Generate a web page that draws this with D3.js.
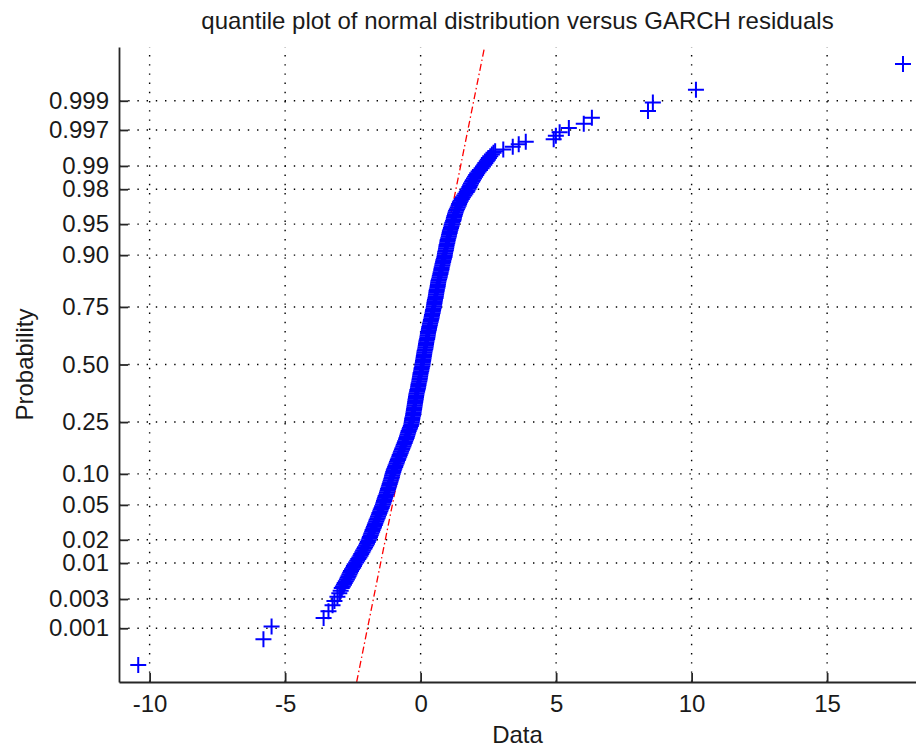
<!DOCTYPE html>
<html>
<head>
<meta charset="utf-8">
<script src="https://cdn.jsdelivr.net/npm/d3@7"></script>
<style>
	body { margin: 0; background: #fff; }
	text { font-family: "Liberation Sans", Arial, sans-serif; fill: #1a1a1a; }
</style>
</head>
<body>
<div id="chart"></div>
<script>
"use strict";

const width = 916, height = 750;
const margin = { top: 47, right: 0, bottom: 68, left: 119 };

//  Data (sorted residuals and their normal scores)
const normalScore = [
	-3.52, -3.22, -3.07, -2.97, -2.89, -2.82, -2.77, -2.72, -2.68, -2.65,
	-2.62, -2.60, -2.58, -2.56, -2.54, -2.52, -2.50, -2.48, -2.46, -2.44,
	-2.42, -2.40, -2.38, -2.36, -2.34, -2.32, -2.30, -2.28, -2.26, -2.24,
	-2.22, -2.20, -2.18, -2.16, -2.14, -2.12, -2.10, -2.08, -2.06, -2.04,
	-2.02, -2.00, -1.98, -1.96, -1.94, -1.92, -1.90, -1.88, -1.86, -1.84,
	-1.82, -1.80, -1.78, -1.76, -1.74, -1.72, -1.70, -1.68, -1.66, -1.64,
	-1.62, -1.60, -1.58, -1.56, -1.54, -1.52, -1.50, -1.48, -1.46, -1.44,
	-1.42, -1.40, -1.38, -1.36, -1.34, -1.32, -1.30, -1.28, -1.26, -1.24,
	-1.22, -1.20, -1.18, -1.16, -1.14, -1.12, -1.10, -1.08, -1.06, -1.04,
	-1.02, -1.00, -0.98, -0.96, -0.94, -0.92, -0.90, -0.88, -0.86, -0.84,
	-0.82, -0.80, -0.78, -0.76, -0.74, -0.72, -0.70, -0.68, -0.66, -0.64,
	-0.62, -0.60, -0.58, -0.56, -0.54, -0.52, -0.50, -0.48, -0.46, -0.44,
	-0.42, -0.40, -0.38, -0.36, -0.34, -0.32, -0.30, -0.28, -0.26, -0.24,
	-0.22, -0.20, -0.18, -0.16, -0.14, -0.12, -0.10, -0.08, -0.06, -0.04,
	-0.02, 0.00, 0.02, 0.04, 0.06, 0.08, 0.10, 0.12, 0.14, 0.16,
	0.18, 0.20, 0.22, 0.24, 0.26, 0.28, 0.30, 0.32, 0.34, 0.36,
	0.38, 0.40, 0.42, 0.44, 0.46, 0.48, 0.50, 0.52, 0.54, 0.56,
	0.58, 0.60, 0.62, 0.64, 0.66, 0.68, 0.70, 0.72, 0.74, 0.76,
	0.78, 0.80, 0.82, 0.84, 0.86, 0.88, 0.90, 0.92, 0.94, 0.96,
	0.98, 1.00, 1.02, 1.04, 1.06, 1.08, 1.10, 1.12, 1.14, 1.16,
	1.18, 1.20, 1.22, 1.24, 1.26, 1.28, 1.30, 1.32, 1.34, 1.36,
	1.38, 1.40, 1.42, 1.44, 1.46, 1.48, 1.50, 1.52, 1.54, 1.56,
	1.58, 1.60, 1.62, 1.64, 1.66, 1.68, 1.70, 1.72, 1.74, 1.76,
	1.78, 1.80, 1.82, 1.84, 1.86, 1.88, 1.90, 1.92, 1.94, 1.96,
	1.98, 2.00, 2.02, 2.04, 2.06, 2.08, 2.10, 2.12, 2.14, 2.16,
	2.18, 2.20, 2.22, 2.24, 2.26, 2.28, 2.30, 2.32, 2.34, 2.36,
	2.38, 2.40, 2.42, 2.44, 2.46, 2.48, 2.50, 2.52,
	2.55, 2.58, 2.61, 2.64, 2.68, 2.72, 2.77, 2.82, 2.89, 2.97,
	3.07, 3.22, 3.52
];
const residual = [
	-10.42, -5.80, -5.50, -3.58, -3.40, -3.25, -3.18, -3.07, -3.00, -2.95,
	-2.91, -2.87, -2.83, -2.80, -2.76, -2.72, -2.69, -2.66, -2.63, -2.60,
	-2.57, -2.53, -2.49, -2.46, -2.43, -2.38, -2.34, -2.30, -2.26, -2.22,
	-2.19, -2.15, -2.12, -2.08, -2.05, -2.01, -1.98, -1.95, -1.92, -1.89,
	-1.87, -1.84, -1.82, -1.79, -1.77, -1.74, -1.72, -1.69, -1.67, -1.64,
	-1.62, -1.59, -1.57, -1.54, -1.52, -1.49, -1.47, -1.44, -1.42, -1.39,
	-1.37, -1.35, -1.33, -1.31, -1.29, -1.26, -1.24, -1.22, -1.20, -1.18,
	-1.16, -1.14, -1.12, -1.10, -1.08, -1.06, -1.05, -1.03, -1.01, -0.99,
	-0.97, -0.94, -0.92, -0.89, -0.87, -0.84, -0.82, -0.79, -0.77, -0.74,
	-0.72, -0.69, -0.67, -0.64, -0.62, -0.59, -0.57, -0.54, -0.52, -0.50,
	-0.48, -0.46, -0.44, -0.41, -0.39, -0.36, -0.34, -0.33, -0.32, -0.31,
	-0.30, -0.28, -0.27, -0.26, -0.25, -0.24, -0.23, -0.22, -0.21, -0.20,
	-0.19, -0.18, -0.17, -0.16, -0.15, -0.13, -0.12, -0.10, -0.09, -0.08,
	-0.07, -0.05, -0.04, -0.03, -0.02, -0.01, 0.00, 0.02, 0.03, 0.04,
	0.06, 0.07, 0.08, 0.09, 0.10, 0.11, 0.12, 0.13, 0.14, 0.15,
	0.17, 0.18, 0.19, 0.20, 0.21, 0.22, 0.24, 0.25, 0.26, 0.27,
	0.28, 0.30, 0.31, 0.32, 0.34, 0.35, 0.37, 0.38, 0.40, 0.41,
	0.42, 0.44, 0.45, 0.46, 0.48, 0.49, 0.50, 0.51, 0.52, 0.53,
	0.55, 0.56, 0.57, 0.58, 0.59, 0.60, 0.62, 0.63, 0.64, 0.65,
	0.66, 0.68, 0.70, 0.71, 0.73, 0.74, 0.76, 0.77, 0.78, 0.80,
	0.81, 0.83, 0.84, 0.86, 0.88, 0.89, 0.90, 0.91, 0.93, 0.94,
	0.95, 0.96, 0.98, 0.99, 1.00, 1.02, 1.04, 1.05, 1.07, 1.08,
	1.10, 1.12, 1.14, 1.15, 1.17, 1.20, 1.22, 1.23, 1.25, 1.27,
	1.29, 1.31, 1.34, 1.37, 1.40, 1.42, 1.45, 1.48, 1.52, 1.56,
	1.61, 1.65, 1.70, 1.73, 1.77, 1.80, 1.83, 1.86, 1.90, 1.93,
	1.97, 2.01, 2.05, 2.09, 2.14, 2.19, 2.25, 2.30, 2.35, 2.39,
	2.44, 2.48, 2.52, 2.57, 2.63, 2.69, 2.75, 3.05,
	3.40, 3.62, 3.88, 4.91, 4.99, 5.13, 5.47, 6.02, 6.32, 8.39,
	8.57, 10.16, 17.80
];

//  Reference line (dash-dot), its two ends
const fitResidual = [-2.36, 2.36];
const fitScore = [-3.72, 3.72];

//  Axes
const xDomain = [-11.13, 18.28];
const scoreDomain = [-3.72, 3.72];
const xTicks = [-10, -5, 0, 5, 10, 15];
const probTicks = [0.001, 0.003, 0.01, 0.02, 0.05, 0.10, 0.25, 0.50, 0.75, 0.90, 0.95, 0.98, 0.99, 0.997, 0.999];
const probLabels = ['0.001', '0.003', '0.01', '0.02', '0.05', '0.10', '0.25', '0.50', '0.75', '0.90', '0.95', '0.98', '0.99', '0.997', '0.999'];

const titleText = 'quantile plot of normal distribution versus GARCH residuals';
const xLabel = 'Data';
const yLabel = 'Probability';

const fontSize = 24;

//  inverse of the standard normal cdf (Acklam)
function probit(p)
{
	const a = [-3.969683028665376e+01, 2.209460984245205e+02, -2.759285104469687e+02, 1.383577518672690e+02, -3.066479806614716e+01, 2.506628277459239e+00];
	const b = [-5.447609879822406e+01, 1.615858368580409e+02, -1.556989798598866e+02, 6.680131188771972e+01, -1.328068155288572e+01];
	const c = [-7.784894002430293e-03, -3.223964580411365e-01, -2.400758277161838e+00, -2.549732539343734e+00, 4.374664141464968e+00, 2.938163982698783e+00];
	const d = [7.784695709041462e-03, 3.224671290700398e-01, 2.445134137142996e+00, 3.754408661907416e+00];
	const low = 0.02425;
	if (p < low || p > 1 - low)
	{
		const q = Math.sqrt(-2 * Math.log(p < low ? p : 1 - p));
		const v = (((((c[0] * q + c[1]) * q + c[2]) * q + c[3]) * q + c[4]) * q + c[5]) / ((((d[0] * q + d[1]) * q + d[2]) * q + d[3]) * q + 1);
		return p < low ? v : -v;
	}
	const q = p - 0.5, r = q * q;
	return (((((a[0] * r + a[1]) * r + a[2]) * r + a[3]) * r + a[4]) * r + a[5]) * q / (((((b[0] * r + b[1]) * r + b[2]) * r + b[3]) * r + b[4]) * r + 1);
}

(() => {
	const svg = d3.select('#chart').append('svg')
		.attr('width', width)
		.attr('height', height);

	const x = d3.scaleLinear().domain(xDomain).range([margin.left, width - margin.right]);
	const y = d3.scaleLinear().domain(scoreDomain).range([height - margin.bottom, margin.top]);

	const plotLeft = margin.left, plotRight = width - margin.right;
	const plotTop = margin.top, plotBottom = height - margin.bottom;

	//  Grid
	const grid = svg.append('g')
		.attr('stroke', '#000')
		.attr('stroke-width', 1.4)
		.attr('stroke-dasharray', '1.4,7.8');

	grid.selectAll('.vgrid')
		.data(xTicks)
		.join('line')
			.attr('x1', d => x(d)).attr('x2', d => x(d))
			.attr('y1', plotBottom).attr('y2', plotTop);

	grid.selectAll('.hgrid')
		.data(probTicks)
		.join('line')
			.attr('x1', plotLeft).attr('x2', plotRight)
			.attr('y1', d => y(probit(d))).attr('y2', d => y(probit(d)));

	//  Reference line
	svg.append('path')
		.datum(fitResidual.map((r, i) => [r, fitScore[i]]))
		.attr('fill', 'none')
		.attr('stroke', '#ff0000')
		.attr('stroke-width', 1.3)
		.attr('stroke-dasharray', '7,3,1.5,3')
		.attr('d', d3.line().x(d => x(d[0])).y(d => y(d[1])));

	//  Data markers
	const m = 8;
	svg.append('g')
		.selectAll('path')
		.data(residual.map((r, i) => [r, normalScore[i]]))
		.join('path')
			.attr('transform', d => `translate(${x(d[0])},${y(d[1])})`)
			.attr('d', `M${-m},0H${m}M0,${-m}V${m}`)
			.attr('stroke', '#0000ff')
			.attr('stroke-width', 2)
			.attr('fill', 'none');

	//  Axes
	const xAxis = svg.append('g')
		.attr('transform', `translate(0,${plotBottom})`)
		.call(d3.axisBottom(x)
			.tickValues(xTicks)
			.tickFormat(d3.format('d'))
			.tickSizeInner(-9)
			.tickSizeOuter(0)
			.tickPadding(13));

	const yAxis = svg.append('g')
		.attr('transform', `translate(${plotLeft},0)`)
		.call(d3.axisLeft(y)
			.tickValues(probTicks.map(probit))
			.tickFormat((d, i) => probLabels[i])
			.tickSizeInner(-9)
			.tickSizeOuter(0)
			.tickPadding(10));

	[xAxis, yAxis].forEach(axis =>
	{
		axis.select('.domain').attr('stroke', '#262626').attr('stroke-width', 1.8);
		axis.selectAll('.tick line').attr('stroke', '#262626').attr('stroke-width', 1.8);
		axis.selectAll('.tick text').attr('font-size', fontSize).attr('fill', '#1a1a1a');
	});
	xAxis.selectAll('.tick text').text(d => d < 0 ? '-' + Math.abs(d) : d);

	//  Labels
	svg.append('text')
		.attr('x', (plotLeft + plotRight) / 2)
		.attr('y', 29)
		.attr('text-anchor', 'middle')
		.attr('font-size', fontSize)
		.text(titleText);

	svg.append('text')
		.attr('x', (plotLeft + plotRight) / 2)
		.attr('y', 743)
		.attr('text-anchor', 'middle')
		.attr('font-size', fontSize)
		.text(xLabel);

	svg.append('text')
		.attr('transform', `translate(33,${(plotTop + plotBottom) / 2}) rotate(-90)`)
		.attr('text-anchor', 'middle')
		.attr('font-size', fontSize)
		.text(yLabel);
})();
</script>
</body>
</html>
